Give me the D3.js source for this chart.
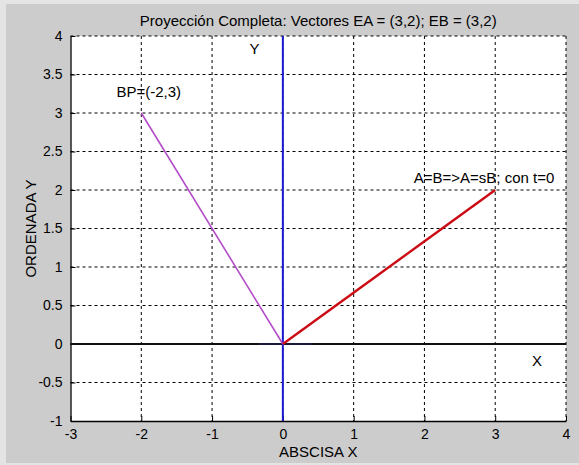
<!DOCTYPE html>
<html>
<head>
<meta charset="utf-8">
<script src="https://cdn.jsdelivr.net/npm/d3@7"></script>
<style>
  html, body { margin: 0; padding: 0; background: #e4e4e4; }
  svg { display: block; }
  text { font-family: "Liberation Sans", Arial, sans-serif; fill: #000; }
</style>
</head>
<body>
<svg id="chart" width="579" height="465"></svg>
<script>
// ---- data ----
const title = "Proyección Completa: Vectores EA = (3,2); EB = (3,2)";
const xLabel = "ABSCISA X";
const yLabel = "ORDENADA Y";
const xDomain = [-3, 4];
const yDomain = [-1, 4];
const xTicks = [-3, -2, -1, 0, 1, 2, 3, 4];
const yTicks = [-1, -0.5, 0, 0.5, 1, 1.5, 2, 2.5, 3, 3.5, 4];
const xTickLabels = ["-3", "-2", "-1", "0", "1", "2", "3", "4"];
const yTickLabels = ["-1", "-0.5", "0", "0.5", "1", "1.5", "2", "2.5", "3", "3.5", "4"];
// axis lines drawn in the plot
const yAxisLine = [[0, -1], [0, 4]];
const xAxisLine = [[-3, 0], [4, 0]];
const projSegment = [[-0.35, 0], [0.41, 0]];
// vectors
const vecBP = [[0, 0], [-2, 3]];
const vecA = [[0, 0], [3, 2]];
// annotations [x, y, text]
const annotations = [
  [-0.47, 3.84, "Y"],
  [3.52, -0.22, "X"],
  [-2.35, 3.27, "BP=(-2,3)"],
  [1.85, 2.16, "A=B=>A=sB; con t=0"]
];

(function () {
// ---- layout ----
const svg = d3.select("#chart");
const W = 579, H = 465;
const pL = 70.5, pR = 566, pT = 36, pB = 421;

svg.append("rect").attr("x", 6).attr("y", 4).attr("width", W - 6).attr("height", H - 6)
  .attr("fill", "#cccccc");

const x = d3.scaleLinear().domain(xDomain).range([pL, pR]);
const y = d3.scaleLinear().domain(yDomain).range([pB, pT]);

// plot background
svg.append("rect").attr("x", pL).attr("y", pT)
  .attr("width", pR - pL).attr("height", pB - pT).attr("fill", "#ffffff");

// grid
const grid = svg.append("g").attr("stroke", "#000").attr("stroke-width", 1)
  .attr("stroke-dasharray", "3,3").attr("fill", "none");
xTicks.slice(1).forEach(t => {
  grid.append("line").attr("x1", x(t)).attr("x2", x(t)).attr("y1", pT).attr("y2", pB);
});
yTicks.slice(1).forEach(t => {
  grid.append("line").attr("x1", pL).attr("x2", pR).attr("y1", y(t)).attr("y2", y(t));
});

// axes (left & bottom solid)
const xAxis = d3.axisBottom(x).tickValues(xTicks).tickFormat((d, i) => xTickLabels[i])
  .tickSizeInner(-5).tickSizeOuter(0).tickPadding(8);
const yAxis = d3.axisLeft(y).tickValues(yTicks).tickFormat((d, i) => yTickLabels[i])
  .tickSizeInner(-5).tickSizeOuter(0).tickPadding(8);

const gx = svg.append("g").attr("transform", `translate(0,${pB})`).call(xAxis);
const gy = svg.append("g").attr("transform", `translate(${pL},0)`).call(yAxis);
[gx, gy].forEach(g => {
  g.select(".domain").attr("stroke", "#000").attr("stroke-width", 1.3);
  g.selectAll(".tick line").attr("stroke", "#000");
  g.selectAll(".tick text").attr("font-size", 14)
    .attr("font-family", "'Liberation Sans', Arial, sans-serif").attr("fill", "#000");
});

// lines
const line = d3.line().x(d => x(d[0])).y(d => y(d[1]));
svg.append("path").datum(xAxisLine).attr("d", line).attr("stroke", "#101010")
  .attr("stroke-width", 2).attr("fill", "none");
svg.append("path").datum(projSegment).attr("d", line).attr("stroke", "#202060")
  .attr("stroke-width", 1.2).attr("fill", "none");
svg.append("path").datum(yAxisLine).attr("d", line).attr("stroke", "#1a1ad0")
  .attr("stroke-width", 2).attr("fill", "none");
svg.append("path").datum(vecBP).attr("d", line).attr("stroke", "#b44cc8")
  .attr("stroke-width", 1.6).attr("fill", "none");
svg.append("path").datum(vecA).attr("d", line).attr("stroke", "#cc0a14")
  .attr("stroke-width", 2.4).attr("fill", "none");

// annotations
annotations.forEach(a => {
  svg.append("text").attr("x", x(a[0])).attr("y", y(a[1])).attr("dy", "0.35em")
    .attr("font-size", 15).text(a[2]);
});

// title and axis labels
const cx = (pL + pR) / 2;
svg.append("text").attr("x", cx).attr("y", 26).attr("text-anchor", "middle")
  .attr("font-size", 15).text(title);
svg.append("text").attr("x", cx).attr("y", 457).attr("text-anchor", "middle")
  .attr("font-size", 15).text(xLabel);
svg.append("text").attr("transform", `translate(36,${(pT + pB) / 2}) rotate(-90)`)
  .attr("text-anchor", "middle").attr("font-size", 15).text(yLabel);
})();
</script>
</body>
</html>
